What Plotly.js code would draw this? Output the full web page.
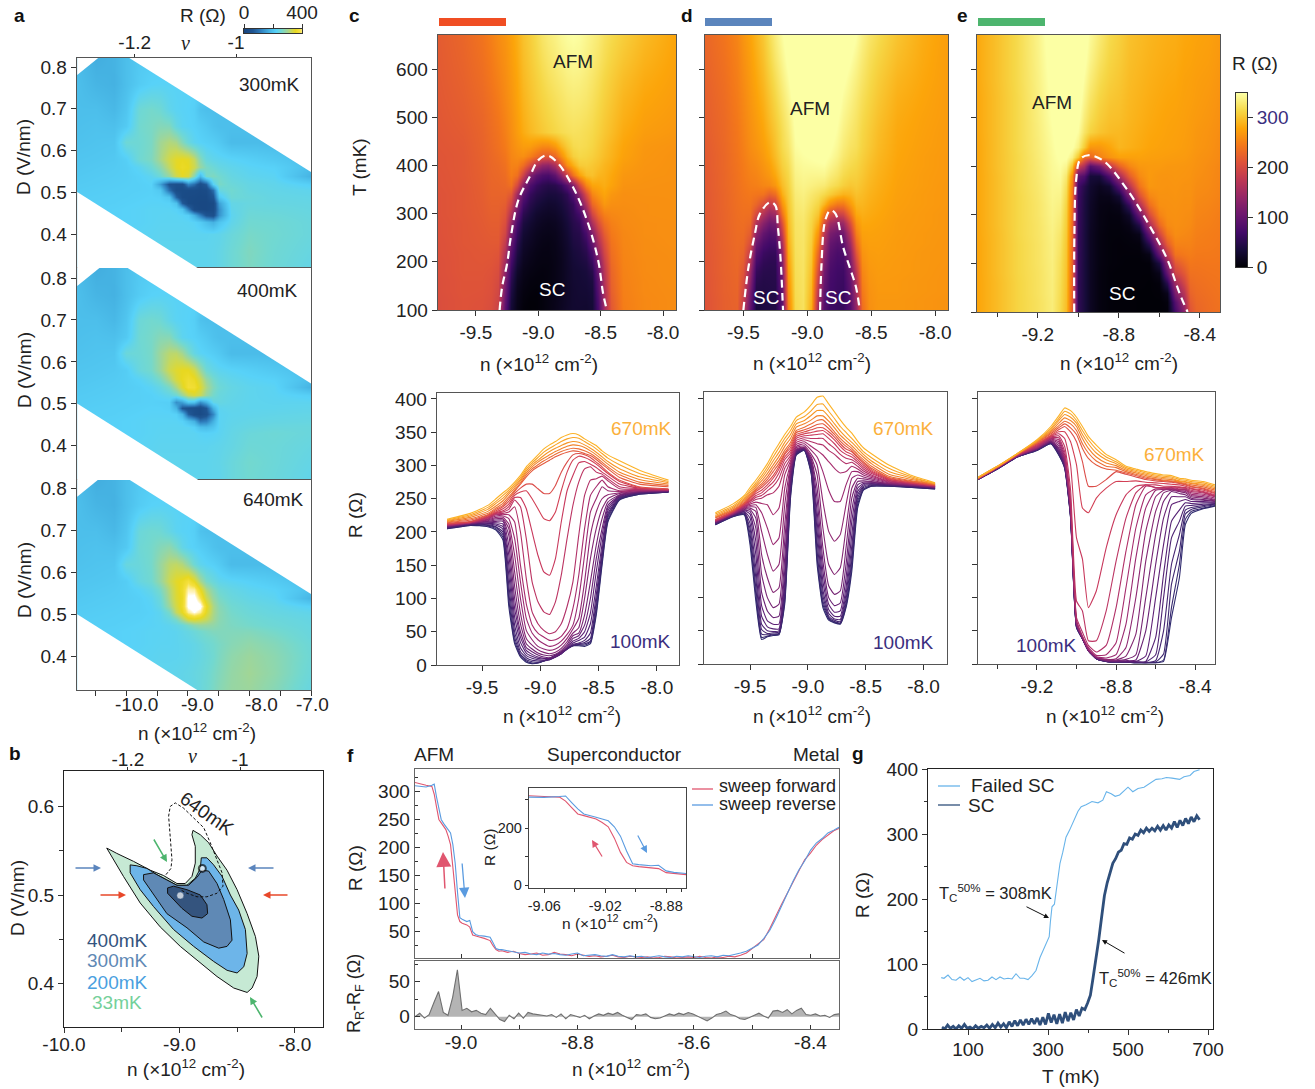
<!DOCTYPE html>
<html><head><meta charset="utf-8"><script src="https://cdn.plot.ly/plotly-3.0.1.min.js"></script>
<style>html,body{margin:0;padding:0;background:#fff}</style></head><body><div id="g"></div>
<script>
// ---------- DATA ----------
const temps=[100,120,140,160,180,200,220,240,260,280,300,320,340,360,380,400,420,440,470,500,540,580,620,670];
// panel c : one array per density, R(T)
const nC=[-9.8,-9.6,-9.45,-9.38,-9.32,-9.27,-9.22,-9.17,-9.12,-9.07,-9.02,-8.97,-8.92,-8.87,-8.82,-8.77,-8.72,-8.67,-8.62,-8.57,-8.52,-8.47,-8.42,-8.32,-8.15,-7.9];
const colsC=[
[205,205,206,206,207,207,208,208,209,209,210,210,210,211,211,212,212,213,214,215,216,217,218,219],
[210,210,211,211,212,212,212,213,213,213,214,214,214,214,215,215,215,216,218,220,222,224,226,228],
[208,209,210,211,212,213,214,215,216,217,218,219,220,221,222,223,224,225,226,228,231,234,237,240],
[203,205,207,208,210,212,214,216,218,220,222,224,226,227,228,229,230,232,234,236,239,243,246,250],
[188,192,196,200,204,208,212,216,218,220,222,224,226,228,230,232,235,238,240,243,247,251,255,259],
[88,98,108,120,135,150,165,180,195,205,212,220,226,230,234,238,242,246,250,253,257,260,263,266],
[32,36,42,50,60,72,85,100,118,140,165,190,215,238,248,252,255,258,261,263,266,269,272,275],
[12,14,16,20,26,34,42,50,62,78,100,125,150,200,238,252,260,266,272,274,277,279,282,285],
[4,6,8,11,14,18,22,26,32,40,52,70,92,130,190,235,262,272,283,286,289,292,295,298],
[2,3,5,7,10,13,16,20,24,30,38,48,60,80,125,200,250,272,292,295,298,301,304,307],
[3,3,4,6,8,10,12,15,18,23,28,38,48,62,95,165,235,265,298,301,305,308,312,316],
[6,6,6,6,7,9,10,12,15,19,24,32,42,52,80,140,220,258,303,307,311,315,320,325],
[10,10,9,8,8,9,10,11,14,17,22,28,37,47,76,135,217,258,308,312,316,321,326,331],
[15,14,13,12,12,12,13,14,16,19,24,30,38,50,95,160,230,270,313,317,321,326,331,336],
[20,19,18,17,17,17,18,20,22,25,30,36,43,62,135,215,262,290,317,321,325,330,336,342],
[25,24,24,24,24,25,26,28,31,35,40,46,55,88,190,262,290,305,320,324,329,334,340,346],
[29,29,29,30,31,33,36,40,44,48,54,60,85,125,240,285,308,316,322,326,331,336,342,348],
[29,30,31,32,33,37,40,44,48,56,70,100,135,195,275,304,314,318,321,325,330,335,341,346],
[28,30,32,34,37,42,50,60,75,100,125,165,205,255,295,306,312,316,318,322,327,331,336,340],
[32,34,36,40,48,62,78,100,125,160,195,230,255,278,298,302,308,312,315,318,322,326,331,335],
[75,80,88,95,105,118,140,160,180,205,230,250,268,280,290,297,302,305,309,312,316,320,325,330],
[150,155,160,165,172,182,195,205,220,235,250,268,278,284,287,290,295,298,302,305,309,313,318,322],
[215,218,222,225,228,232,236,240,245,250,256,262,268,277,280,284,288,290,295,298,302,306,311,316],
[248,249,250,251,252,253,254,255,256,258,259,261,262,265,268,272,276,278,282,286,290,295,301,307],
[257,257,258,258,259,259,260,260,261,261,262,262,263,264,265,266,267,268,272,275,279,283,288,293],
[260,260,260,261,261,261,261,262,262,262,263,263,263,263,264,264,264,265,268,270,272,274,276,278]];
// panel d
const nD=[-9.8,-9.65,-9.55,-9.5,-9.45,-9.4,-9.35,-9.3,-9.25,-9.2,-9.15,-9.1,-9.03,-8.97,-8.92,-8.87,-8.82,-8.77,-8.72,-8.67,-8.62,-8.57,-8.52,-8.45,-8.3,-8.1,-7.9];
const colsD=[
[210,210,211,211,212,212,213,213,214,214,215,215,215,216,216,217,217,218,220,221,222,224,226,228],
[222,222,223,223,224,224,224,225,225,226,226,227,227,228,228,229,229,230,231,232,234,236,238,241],
[225,226,227,228,229,230,231,232,233,234,235,236,237,238,239,240,241,242,243,245,247,249,251,254],
[180,188,196,204,212,220,226,230,233,235,237,239,241,243,245,246,248,250,252,254,256,259,262,266],
[95,105,115,130,145,165,185,205,220,230,236,240,244,248,251,254,257,260,262,264,267,270,273,277],
[37,40,45,52,60,72,88,108,135,165,200,228,242,250,254,258,262,266,269,272,276,280,284,289],
[41,42,44,46,50,56,65,80,100,130,165,205,240,255,261,266,270,274,278,282,287,292,297,302],
[43,44,45,47,49,53,60,70,85,108,140,180,225,258,268,274,280,284,290,295,300,306,312,318],
[44,45,46,48,50,53,60,72,90,115,150,190,235,268,280,288,294,298,302,307,313,319,326,332],
[90,95,100,105,115,125,140,160,185,210,240,265,285,295,302,308,312,316,318,322,328,334,340,346],
[250,255,260,265,270,275,280,285,290,294,298,302,306,310,314,318,322,326,330,334,340,346,352,358],
[315,316,317,318,319,320,321,322,323,324,326,328,331,334,337,340,343,346,349,352,357,362,367,372],
[322,322,323,323,324,324,325,325,326,327,329,332,335,338,341,344,347,350,353,357,362,367,373,380],
[285,288,291,294,297,300,303,306,309,312,316,322,328,335,340,345,349,353,357,362,368,375,382,391],
[150,160,170,185,200,215,230,248,265,285,300,312,322,332,340,346,351,356,361,367,374,382,391,402],
[85,90,95,103,112,125,140,155,175,205,245,290,315,330,340,347,352,356,362,368,374,382,392,404],
[66,68,70,72,76,82,90,100,118,150,200,262,305,322,332,340,346,350,355,360,366,373,381,392],
[62,63,64,66,68,72,78,88,105,135,185,245,295,316,325,332,338,342,346,350,356,362,370,380],
[60,61,62,64,67,72,80,92,110,145,195,245,288,308,316,322,328,332,336,340,345,351,358,368],
[85,88,92,98,105,115,130,150,175,205,240,270,290,302,310,316,320,324,328,332,337,342,349,357],
[140,148,156,165,178,195,215,232,250,265,280,290,298,304,308,312,316,320,322,325,329,334,340,348],
[235,240,245,250,255,260,265,270,275,280,285,290,294,298,302,305,308,311,313,316,320,325,330,336],
[262,263,264,266,268,270,272,274,276,279,282,285,288,291,294,297,300,303,305,308,312,316,320,326],
[268,268,269,270,271,272,273,274,275,277,279,281,283,285,287,289,291,293,295,298,302,306,311,317],
[268,268,269,269,270,270,271,271,272,272,273,274,275,276,277,278,279,280,281,283,286,290,295,300],
[266,266,267,267,268,268,268,269,269,270,270,271,271,272,272,273,273,274,275,276,278,280,282,284],
[264,264,265,265,265,266,266,266,267,267,267,268,268,268,269,269,269,270,270,271,271,272,272,273]];
// panel e
const nE=[-9.5,-9.4,-9.3,-9.2,-9.13,-9.09,-9.06,-9.03,-9.0,-8.97,-8.94,-8.9,-8.85,-8.8,-8.75,-8.7,-8.65,-8.6,-8.56,-8.52,-8.48,-8.45,-8.42,-8.36,-8.3];
const colsE=[
[278,278,278,278,278,278,278,278,279,279,279,279,279,279,279,279,279,279,280,280,280,281,281,281],
[294,294,294,294,295,295,295,295,295,296,296,296,296,296,296,297,297,297,297,297,297,298,298,298],
[312,312,312,312,313,313,313,313,314,314,314,314,314,315,315,315,315,316,316,316,316,317,317,317],
[322,322,323,323,323,324,324,324,325,325,326,326,327,328,329,330,331,332,333,334,335,336,337,338],
[332,332,333,333,334,334,335,335,336,337,338,339,340,341,342,343,344,345,347,349,351,353,355,358],
[315,316,317,318,319,320,322,324,326,329,332,335,338,341,344,347,350,353,356,359,363,367,370,374],
[295,296,297,298,299,300,301,302,304,306,308,311,315,320,328,340,350,358,362,366,371,376,381,386],
[220,221,222,223,224,225,226,228,230,232,235,238,242,248,262,300,335,350,356,362,367,372,377,382],
[55,55,56,56,57,58,58,59,60,61,62,64,66,70,95,190,300,335,346,352,358,363,367,372],
[38,38,38,38,38,38,39,39,39,40,40,41,42,48,80,158,235,305,325,332,340,346,352,358],
[20,20,20,20,20,20,20,20,20,21,22,23,25,28,35,85,228,268,310,318,325,332,338,343],
[8,8,8,8,8,9,9,9,9,10,10,11,13,18,35,110,250,268,300,306,312,318,324,330],
[4,4,4,4,4,5,5,5,5,6,7,9,14,28,80,175,265,278,294,298,303,308,312,316],
[3,3,3,3,3,4,4,4,5,6,8,14,32,85,155,225,275,290,292,296,299,302,305,308],
[3,3,3,3,3,3,4,5,7,12,25,60,115,170,220,255,275,286,288,290,292,294,296,298],
[2,2,2,3,3,3,4,6,14,45,100,160,205,240,258,268,276,282,284,286,288,290,292,294],
[2,2,2,2,3,4,12,50,100,155,200,235,255,268,270,270,274,278,280,282,284,286,288,290],
[2,2,3,5,14,40,100,150,195,230,252,262,264,266,266,270,273,276,278,279,281,283,285,287],
[4,6,15,50,100,135,180,220,245,258,262,263,264,265,266,268,272,275,276,277,279,281,283,285],
[70,85,120,150,190,215,240,252,260,262,263,264,265,266,267,268,271,274,275,276,278,280,282,284],
[130,150,170,195,215,232,245,252,257,260,261,262,263,264,266,267,270,272,273,274,275,276,278,280],
[210,218,226,232,238,243,248,252,255,258,260,262,263,264,265,266,268,270,271,272,274,275,277,279],
[227,230,233,236,239,242,245,248,250,252,254,256,258,260,262,264,265,267,268,270,272,273,275,277],
[234,235,237,239,241,243,245,247,248,250,252,254,256,258,259,260,262,264,265,267,269,271,273,275],
[238,239,240,241,242,243,244,245,246,247,248,250,252,253,254,255,257,258,260,262,264,266,268,270]];
// dashed dome outlines
const domeCn=[-9.31,-9.29,-9.25,-9.22,-9.16,-9.07,-9.0,-8.93,-8.84,-8.71,-8.6,-8.52,-8.48,-8.45];
const domeCT=[100,148,196,252,328,376,411,421,404,349,279,203,134,100];
const domeD1n=[-9.5,-9.46,-9.41,-9.37,-9.29,-9.25,-9.23,-9.21,-9.19];
const domeD1T=[100,189,258,300,324,317,272,210,100];
const domeD2n=[-8.9,-8.89,-8.86,-8.82,-8.78,-8.72,-8.66,-8.62,-8.59];
const domeD2T=[100,189,286,307,300,231,182,148,100];
const domeEn=[-9.02,-9.019,-9.01,-8.99,-8.95,-8.877,-8.76,-8.647,-8.56,-8.5,-8.46];
const domeET=[100,263,374,415,423,412,353,277,208,139,100];
// panel a maps
const nA=[-10.8,-10.5,-10.2,-10,-9.8,-9.6,-9.45,-9.3,-9.2,-9.1,-9,-8.9,-8.8,-8.7,-8.6,-8.5,-8.3,-8,-7.6,-7];
const dA=[0.82,0.76,0.7,0.66,0.62,0.58,0.56,0.54,0.52,0.505,0.49,0.475,0.46,0.445,0.43,0.4,0.36,0.32];
const map300=[
[185,165,172,190,205,210,210,210,210,210,210,210,210,210,210,210,210,210,210,210],
[190,175,170,190,210,220,222,222,222,222,222,222,222,222,222,222,222,222,222,222],
[190,190,180,200,250,258,252,232,224,222,220,215,195,190,190,190,190,190,190,190],
[192,195,192,208,255,262,270,268,240,226,222,218,212,205,195,190,190,190,190,190],
[195,198,200,250,252,262,292,305,298,270,245,228,220,216,212,205,185,185,185,185],
[200,202,205,215,252,265,298,328,345,350,345,318,272,242,232,228,222,215,205,190],
[202,205,208,212,226,250,276,316,346,356,350,326,286,262,250,240,232,224,218,190],
[205,208,210,212,218,228,250,286,326,346,336,272,182,258,266,256,240,230,225,172],
[208,210,212,214,216,220,150,52,40,40,120,90,36,72,220,262,248,238,232,215],
[210,212,214,215,216,218,205,92,30,25,25,25,20,25,90,240,255,240,235,230],
[212,214,215,216,218,220,218,200,80,25,20,18,15,15,55,205,250,245,238,235],
[213,215,216,218,220,222,222,220,195,70,20,15,12,12,20,150,236,242,240,238],
[215,216,218,220,222,224,224,224,220,200,110,25,14,12,25,130,232,246,244,240],
[215,216,218,220,222,224,225,226,225,222,215,170,110,55,40,135,228,250,248,242],
[216,217,218,220,222,224,226,226,226,226,225,222,210,190,170,200,232,254,252,244],
[216,218,220,222,224,226,228,228,228,228,228,228,228,228,230,232,245,260,254,244],
[218,220,222,224,226,228,230,230,230,230,230,230,230,230,232,236,250,266,252,240],
[218,220,222,224,226,228,230,230,230,230,230,230,230,230,232,236,250,264,250,236]];
const map400=[
[185,165,172,190,205,210,210,210,210,210,210,210,210,210,210,210,210,210,210,210],
[190,175,170,190,210,220,222,222,222,222,222,222,222,222,222,222,222,222,222,222],
[190,190,180,200,248,256,252,234,224,222,220,215,195,190,190,190,190,190,190,190],
[192,195,192,206,252,260,272,272,248,228,222,218,212,205,195,190,190,190,190,190],
[195,198,200,246,250,260,290,310,312,295,265,238,224,218,212,205,185,185,185,185],
[200,202,205,212,244,258,288,325,342,350,350,330,290,252,236,228,222,215,205,190],
[202,205,208,212,222,240,262,300,335,352,365,355,325,285,258,242,232,224,218,190],
[205,208,210,212,216,224,238,262,300,340,372,368,340,300,268,250,238,230,225,172],
[208,210,212,214,216,218,225,235,250,285,320,335,320,285,258,244,236,230,226,215],
[210,212,214,215,216,218,216,215,130,150,200,195,130,170,235,240,234,230,228,228],
[212,214,215,216,218,220,220,216,175,60,40,35,25,60,170,228,232,230,230,232],
[213,215,216,218,220,222,222,222,218,180,75,35,22,45,120,225,230,232,234,236],
[215,216,218,220,222,224,224,224,224,220,195,170,100,110,170,225,232,236,238,240],
[215,216,218,220,222,224,225,226,226,226,225,218,190,185,200,225,234,240,244,244],
[216,217,218,220,222,224,226,226,226,226,226,226,222,220,222,226,236,246,250,244],
[216,218,220,222,224,226,228,228,228,228,228,228,228,228,230,232,238,250,248,240],
[218,220,222,224,226,228,230,230,230,230,230,230,230,230,232,234,244,256,248,236],
[218,220,222,224,226,228,230,230,230,230,230,230,230,230,232,232,244,254,246,232]];
const map640=[
[185,165,172,190,205,210,210,210,210,210,210,210,210,210,210,210,210,210,210,210],
[190,175,170,190,210,220,222,222,222,222,222,222,222,222,222,222,222,222,222,222],
[190,190,180,200,246,254,252,238,226,222,220,215,195,190,190,190,190,190,190,190],
[192,195,192,206,250,258,270,278,260,236,224,218,212,205,195,190,190,190,190,190],
[195,198,200,242,246,258,286,310,315,305,280,250,230,222,216,208,185,185,185,185],
[200,202,205,212,240,254,284,322,345,355,375,348,298,262,245,232,225,218,208,190],
[202,205,208,212,222,238,262,306,340,360,405,400,350,300,270,250,238,228,220,195],
[205,208,210,212,216,226,248,300,338,355,425,430,385,325,285,262,246,236,228,175],
[208,210,212,214,216,222,240,288,330,360,425,440,430,355,300,272,254,244,236,218],
[210,212,214,215,216,220,228,260,318,350,400,420,400,345,300,276,258,248,240,232],
[212,214,215,216,218,222,226,240,262,300,335,345,335,320,295,275,262,254,246,238],
[213,215,216,218,220,222,224,228,236,245,262,276,285,285,280,272,264,258,250,240],
[215,216,218,220,222,224,224,226,228,234,240,248,256,262,268,268,268,268,258,242],
[215,216,218,220,222,224,225,226,228,232,236,242,250,256,260,266,270,274,264,244],
[216,217,218,220,222,224,226,226,228,230,232,236,242,250,256,262,272,280,270,248],
[216,218,220,222,224,226,228,228,228,230,232,236,240,246,254,264,278,288,276,250],
[218,220,222,224,226,228,230,230,232,234,236,240,244,250,260,268,282,292,278,246],
[218,220,222,224,226,228,230,230,232,234,234,238,244,252,262,272,284,288,272,240]];
const bandTopN=[-9.99,-7,-7],bandTopD=[0.825,0.5485,0.825];
const bandLowN=[-10.8,-8.8,-10.8],bandLowD=[0.5006,0.315,0.315];
const bandCutN=[-10.8,-10.43,-10.8],bandCutD=[0.781,0.825,0.825];
// panel b contours
const c33n=[-9.63,-9.543,-9.398,-9.253,-9.138,-9.022,-8.95,-8.892,-8.863,-8.863,-8.892,-8.883,-8.819,-8.747,-8.675,-8.588,-8.501,-8.414,-8.342,-8.313,-8.328,-8.371,-8.414,-8.53,-8.675,-8.819,-8.993,-9.167,-9.34,-9.485,-9.63];
const c33d=[.553,.547,.538,.528,.522,.513,.513,.521,.536,.555,.568,.573,.568,.559,.544,.528,.506,.479,.453,.431,.408,.395,.39,.395,.408,.423,.442,.464,.491,.521,.553];
const c200n=[-9.427,-9.369,-9.282,-9.196,-9.109,-9.022,-8.935,-8.863,-8.819,-8.811,-8.762,-8.704,-8.631,-8.559,-8.487,-8.429,-8.414,-8.443,-8.501,-8.588,-8.704,-8.877,-9.051,-9.225,-9.34,-9.427,-9.427];
const c200d=[.534,.533,.53,.523,.517,.511,.511,.519,.53,.542,.542,.534,.521,.5,.483,.461,.434,.419,.412,.415,.425,.442,.461,.487,.506,.525,.534];
const c300n=[-9.311,-9.225,-9.109,-9.022,-8.921,-8.848,-8.805,-8.747,-8.675,-8.617,-8.559,-8.545,-8.588,-8.66,-8.79,-8.935,-9.109,-9.253,-9.311,-9.311];
const c300d=[.523,.525,.517,.511,.511,.52,.528,.527,.513,.495,.472,.449,.442,.44,.447,.463,.479,.506,.517,.523];
const c400n=[-9.103,-9.051,-8.935,-8.819,-8.762,-8.756,-8.805,-8.892,-8.979,-9.051,-9.103,-9.103];
const c400d=[.508,.51,.506,.5,.489,.479,.474,.476,.485,.495,.502,.508];
const c640n=[-9.117,-9.074,-9.065,-9.08,-9.094,-9.08,-9.036,-8.964,-8.863,-8.79,-8.733,-8.675,-8.631,-8.623,-8.675,-8.762,-8.848,-8.935,-8.993];
const c640d=[.523,.53,.54,.562,.589,.6,.604,.598,.585,.576,.559,.54,.525,.51,.502,.498,.498,.502,.506];
// panel f
const fN=[-9.079,-9.07,-9.06,-9.05,-9.046,-9.042,-9.038,-9.034,-9.03,-9.026,-9.022,-9.018,-9.014,-9.01,-9.006,-9.002,-8.998,-8.99,-8.985,-8.98,-8.975,-8.97,-8.96,-8.95,-8.945,-8.94,-8.935,-8.93,-8.92,-8.91,-8.9,-8.89,-8.88,-8.87,-8.86,-8.85,-8.84,-8.83,-8.82,-8.81,-8.8,-8.79,-8.78,-8.77,-8.76,-8.75,-8.74,-8.73,-8.72,-8.71,-8.7,-8.69,-8.68,-8.67,-8.66,-8.65,-8.64,-8.63,-8.62,-8.61,-8.6,-8.59,-8.58,-8.57,-8.56,-8.55,-8.54,-8.53,-8.52,-8.51,-8.5,-8.49,-8.48,-8.47,-8.46,-8.45,-8.44,-8.43,-8.42,-8.41,-8.4,-8.39,-8.38,-8.37,-8.36,-8.351];
const fForward=[316,313,311,309,295,272,250,244,238,232,220,205,165,115,80,68,65,62,58,44,42,41,38,34,25,18,15,16,13,15,11,9,10,12,8,9,13,10,9,7,10,8,6,7,5,6,8,5,4,6,5,4,5,3,4,6,5,3,4,5,4,6,4,3,5,4,6,5,8,12,20,28,36,55,78,98,118,138,158,178,190,204,214,222,230,234];
const fReverse=[310,309,308,311,313,290,268,250,243,238,232,226,205,172,120,75,72,68,70,50,45,43,42,40,30,20,18,18,16,14,12,13,10,9,12,10,11,9,8,10,12,7,8,9,7,6,9,6,5,7,5,6,4,5,7,5,4,6,5,7,5,4,6,7,5,8,7,9,12,15,21,26,38,52,72,95,120,140,160,176,195,208,216,226,231,236];
const fDiff=[0,5,-2,3,20,36,6,2,28,67,9,12,7,9,5,3,12,4,-4,-7,2,-3,5,-2,6,4,3,2,1,3,-1,4,-3,3,1,-1,2,-3,1,4,2,5,3,6,2,-1,-4,3,2,4,-1,-3,-2,1,4,2,5,3,6,4,1,-2,-6,-2,3,5,8,3,1,-3,-4,-1,2,5,1,-2,8,9,6,10,4,9,12,3,2,4,1,2,-1,3,4];
// panel g
const gFailT=[33,40,50,60,70,80,90,100,110,120,130,140,150,160,170,180,190,200,210,220,230,240,250,260,270,280,290,297,303,306,310,316,322,330,337,345,354,365,375,383,395,410,425,437,446,458,468,479,490,500,512,525,540,554,570,585,596,610,620,629,640,655,665,679];
const gFailR=[79,78,83,76,75,80,75,79,73,75,78,74,75,80,76,80,77,78,77,85,78,78,76,82,90,110,125,135,142,165,188,192,220,255,272,295,306,322,335,342,345,350,348,352,365,362,358,360,366,372,365,370,372,378,384,385,387,386,385,384,388,390,396,399];
const gScT=[35,42,49,56,63,70,77,84,91,98,105,112,119,126,133,140,147,154,161,168,175,182,189,196,203,210,217,224,231,238,245,252,259,266,273,280,287,294,301,308,315,322,329,336,343,350,357,364,371,378,385,392,399,406,413,420,427,434,441,448,455,462,469,476,483,490,497,504,511,518,525,532,539,546,553,560,567,574,581,588,595,602,609,616,623,630,637,644,651,658,665,672,679];
const gScR=[3,0,6,1,4,0,5,1,7,1,3,0,5,1,4,2,6,1,7,2,9,3,8,2,11,4,13,5,14,6,15,7,16,8,17,6,18,7,24,10,22,8,23,9,26,12,25,14,30,20,32,30,40,52,80,108,138,172,205,225,240,255,262,272,275,285,284,294,292,300,298,306,302,309,304,309,305,312,306,313,306,314,309,319,310,321,313,324,316,326,319,328,322];
const barLevelsA=[0,50,100,150,200,250,300,350,400];
const barLevelsH=[0,50,100,150,200,250,300,348];

// ---------- STYLE ----------
const inferno=[[0,'#000004'],[.1,'#160b39'],[.2,'#420a68'],[.3,'#6a176e'],[.4,'#932667'],[.5,'#bb3754'],[.6,'#dd513a'],[.7,'#f3771a'],[.8,'#fca50a'],[.9,'#f6d746'],[1,'#fcffa4']];
const icy=[[0,'#17457f'],[.143,'#1f5592'],[.262,'#2f7fbe'],[.405,'#45b2e2'],[.524,'#58d2f8'],[.607,'#72d8d0'],[.69,'#9ed69a'],[.762,'#c8d85a'],[.833,'#e8d820'],[.905,'#f6e040'],[.976,'#fff4c0'],[1,'#ffffff']];
const curveStops=[[0,[47,42,110]],[.25,[90,32,117]],[.5,[160,42,112]],[.68,[207,58,88]],[.8,[232,96,58]],[.9,[245,146,38]],[1,[252,179,40]]];
function curveColor(i,n){const t=i/(n-1);for(let k=1;k<curveStops.length;k++){if(t<=curveStops[k][0]){const a=curveStops[k-1],b=curveStops[k],f=(t-a[0])/(b[0]-a[0]);return 'rgb('+a[1].map((v,m)=>Math.round(v+(b[1][m]-v)*f)).join(',')+')';}}return 'rgb(252,179,40)';}

const W=1315,H=1089,FS=19,INK='#222';
const layout={width:W,height:H,margin:{l:0,r:0,t:0,b:0},paper_bgcolor:'#fff',plot_bgcolor:'#fff',showlegend:false,font:{family:'"Liberation Sans",Arial,sans-serif',size:FS,color:INK},annotations:[],shapes:[]};
const traces=[];
function panel(k,r,xo,yo){
  const base={showline:true,mirror:true,linecolor:'#444',linewidth:1.4,ticks:'outside',ticklen:5,tickwidth:1,tickcolor:'#333',zeroline:false,showgrid:false,tickfont:{size:FS,color:INK}};
  layout['xaxis'+k]=Object.assign({},base,{domain:[r[0]/W,r[1]/W],anchor:'y'+k},xo);
  layout['yaxis'+k]=Object.assign({},base,{domain:[1-r[3]/H,1-r[2]/H],anchor:'x'+k},yo);
}
function label(text,x,y,o){layout.annotations.push(Object.assign({text,x:x/W,y:1-y/H,xref:'paper',yref:'paper',showarrow:false,xanchor:'center',yanchor:'middle',font:{size:FS,color:INK}},o||{}));}
function arrow(x0,y0,x1,y1,color,w,size){layout.annotations.push({text:'',x:x1/W,y:1-y1/H,xref:'paper',yref:'paper',showarrow:true,ax:x0-x1,ay:y0-y1,axref:'pixel',ayref:'pixel',arrowhead:2,arrowsize:size||1,arrowwidth:w||1.5,arrowcolor:color,standoff:0,startstandoff:0});}
function bar(x0,x1,y0,y1,color){layout.shapes.push({type:'rect',xref:'paper',yref:'paper',x0:x0/W,x1:x1/W,y0:1-y1/H,y1:1-y0/H,fillcolor:color,line:{width:0}});}
function seg(x0,x1,y,color){layout.shapes.push({type:'line',xref:'paper',yref:'paper',x0:x0/W,x1:x1/W,y0:1-y/H,y1:1-y/H,line:{color,width:1.3}});}
const nTitle='n (×10<sup>12</sup> cm<sup>-2</sup>)';
const byRow=cols=>cols[0].map((_,j)=>cols.map(c=>c[j]));
const on=k=>({xaxis:'x'+k,yaxis:'y'+k});
const vert={textangle:-90};

// ---------- panel a ----------
const aY=[.4,.5,.6,.7,.8];
[[2,[77,311,58,268],[.319,.8216],map300,'300mK',269,84,157],[3,[77,311,268,480],[.318,.824],map400,'400mK',267,290,370],[4,[77,311,480,690],[.3196,.8208],map640,'640mK',273,499,580]].forEach(p=>{
  const k=p[0];
  panel(k,p[1],{range:[-10.803,-7],tickvals:k===4?[-10.5,-10,-9.5,-9,-8.5,-8,-7.5,-7]:[],showticklabels:false,linecolor:'#555'},{range:p[2],tickvals:aY,linecolor:'#555'});
  traces.push(Object.assign({type:'heatmap',x:nA,y:dA,z:p[3],zsmooth:'best',zmin:0,zmax:420,colorscale:icy,showscale:false},on(k)));
  [[bandTopN,bandTopD],[bandLowN,bandLowD],[bandCutN,bandCutD]].forEach(b=>{
    layout.shapes.push({type:'path',xref:'x'+k,yref:'y'+k,layer:'above',path:'M'+b[0].map((v,i)=>v+','+b[1][i]).join(' L')+' Z',fillcolor:'#fff',line:{width:0}});
  });
  label(p[4],p[5],p[6]);
  label('D (V/nm)',24,p[7],vert);
});
[['-10.0',136],['-9.0',197],['-8.0',261],['-7.0',312]].forEach(t=>label(t[0],t[1],704));
label(nTitle,197,732);
// nu axis + small scale
function nuAxis(k,over,standoff){
  layout['xaxis'+k]={overlaying:'x'+over,anchor:'y'+over,side:'top',range:[-1.314,-.852],tickvals:[-1.2,-1],ticktext:['-1.2','-1'],ticks:'outside',ticklen:3,tickcolor:'#333',ticklabelstandoff:standoff,showline:false,zeroline:false,showgrid:false,tickfont:{size:FS,color:INK}};
  traces.push({type:'scatter',x:[null],y:[null],mode:'lines',xaxis:'x'+k,yaxis:'y'+over,hoverinfo:'skip'});
}
nuAxis(18,2,-3);
panel(16,[244,302,29,33],{range:[0,400],side:'top',tickvals:[0,200,400],ticktext:['0','','400'],ticklen:4,ticklabelstandoff:-3,linecolor:'#333',linewidth:1},{range:[0,1],ticks:'',showticklabels:false,linecolor:'#333',linewidth:1});
traces.push(Object.assign({type:'heatmap',x:barLevelsA,y:[0,1],z:[barLevelsA,barLevelsA],zsmooth:'best',zmin:0,zmax:420,colorscale:icy,showscale:false},on(16)));
label('R (Ω)',203,15);
label('ν',185,43,{font:{family:'"Liberation Serif",serif',size:20,color:INK},text:'<i>ν</i>'});

// ---------- panel b ----------
panel(5,[64,323,771,1027],{range:[-10,-7.757],tickvals:[-10,-9,-8],ticktext:['-10.0','-9.0','-8.0'],ticklabelstandoff:-5,minor:{tickvals:[-9.5,-8.5],ticks:'outside',ticklen:4,tickcolor:'#333'},linecolor:'#222',linewidth:1},{range:[.351,.64],tickvals:[.4,.5,.6],ticktext:['0.4','0.5','0.6'],minor:{tickvals:[.45,.55],ticks:'outside',ticklen:4,tickcolor:'#333'},linecolor:'#222',linewidth:1});
nuAxis(19,5,-7);
[[c33n,c33d,'#c6e9d4'],[c200n,c200d,'#6db5e9'],[c300n,c300d,'#5f89b5'],[c400n,c400d,'#34547e']].forEach(c=>traces.push(Object.assign({x:c[0],y:c[1],mode:'lines',fill:'toself',fillcolor:c[2],line:{color:'#111',width:1}},on(5))));
traces.push(Object.assign({x:c640n,y:c640d,mode:'lines',line:{color:'#111',width:1,dash:'3px,2px'}},on(5)));
traces.push(Object.assign({x:[-8.993,-8.802],y:[.4994,.53],mode:'markers',marker:{size:[7,7],color:['#fff','#fff'],line:{color:['#34547e','#111'],width:[0.5,2]}}},on(5)));
label('ν',192,756,{text:'<i>ν</i>',font:{family:'"Liberation Serif",serif',size:20,color:INK}});
label('640mK',207,813,{textangle:35});
label('400mK',117,940,{font:{size:FS,color:'#34547e'}});
label('300mK',117,960,{font:{size:FS,color:'#5f89b5'}});
label('200mK',117,982,{font:{size:FS,color:'#4aa0e0'}});
label('33mK',117,1002,{font:{size:FS,color:'#74d09a'}});
arrow(74,868,101,868,'#5b85bd');arrow(275,868,248,868,'#5b85bd');
arrow(99,895,126,895,'#e8482a');arrow(289,895,263,895,'#e8482a');
arrow(153,838,167,862,'#4db56e');arrow(263,1019,250,997,'#4db56e');
label(nTitle,186,1068);label('D (V/nm)',17,898,vert);

// ---------- panels c,d,e heat + line ----------
const hY=[100,200,300,400,500,600];
function heatPanel(k,rect,xr,xt,minorX,n,cols,domes,yLabels){
  panel(k,rect,{range:xr,tickvals:xt,ticktext:xt.map(v=>v.toFixed(1)),minor:minorX?{tickvals:minorX,ticks:'outside',ticklen:4,tickcolor:'#333'}:undefined,linecolor:'#555'},{range:[100,670.7],tickvals:hY,showticklabels:yLabels,linecolor:'#555'});
  traces.push(Object.assign({type:'heatmap',x:n,y:temps,z:byRow(cols),zsmooth:'best',zmin:0,zmax:348,colorscale:inferno,showscale:false},on(k)));
  domes.forEach(d=>traces.push(Object.assign({x:d[0],y:d[1],mode:'lines',line:{color:'#fff',width:2.2,dash:'8px,5px',shape:'spline'}},on(k))));
}
function linePanel(k,rect,xr,xt,minorX,n,cols,yLabels,yr){
  panel(k,rect,{range:xr,tickvals:xt,ticktext:xt.map(v=>v.toFixed(1)),minor:minorX?{tickvals:minorX,ticks:'outside',ticklen:4,tickcolor:'#333'}:undefined,linecolor:'#555'},{range:yr,tickvals:[0,50,100,150,200,250,300,350,400],showticklabels:yLabels,linecolor:'#555'});
  byRow(cols).forEach((row,j)=>traces.push(Object.assign({x:n,y:row,mode:'lines',line:{color:curveColor(j,temps.length),width:1.1,shape:'spline',smoothing:.45}},on(k))));
}
const t5=[-9.5,-9,-8.5,-8];
heatPanel(6,[438,676,35,310],[-9.804,-7.896],t5,null,nC,colsC,[[domeCn,domeCT]],true);
heatPanel(7,[705,948,35,310],[-9.8,-7.9],t5,null,nD,colsD,[[domeD1n,domeD1T],[domeD2n,domeD2T]],false);
heatPanel(8,[977,1220,35,312],[-9.5,-8.3],[-9.2,-8.8,-8.4],[-9.4,-9,-8.6],nE,colsE,[[domeEn,domeET]],false);
linePanel(9,[437,679,393,665],[-9.886,-7.81],t5,null,nC,colsC,true,[0,409]);
linePanel(10,[704,947,392,664],[-9.898,-7.797],t5,null,nD,colsD,false,[0,410]);
linePanel(11,[978,1215,392,664],[-9.498,-8.3],[-9.2,-8.8,-8.4],[-9.4,-9,-8.6],nE,colsE,false,[0,410]);
[[539,363],[812,362],[1119,362],[562,715],[812,715],[1105,715]].forEach(p=>label(nTitle,p[0],p[1]));
label('T (mK)',360,167,vert);label('R (Ω)',355,515,vert);
bar(439,506,18,26,'#f04e23');bar(705,772,18,26,'#5b85bd');bar(978,1045,18,26,'#4db56e');
[['AFM',573,62],['AFM',810,109],['AFM',1052,103]].forEach(t=>label(t[0],t[1],t[2]));
[['SC',552,289],['SC',766,297],['SC',838,297],['SC',1122,293]].forEach(t=>label(t[0],t[1],t[2],{font:{size:FS,color:'#fff'}}));
[[641,428],[904,428],[1174,455]].forEach(p=>label('670mK',p[0],p[1],{font:{size:FS,color:'#fbb03b'}}));
[[640,641],[903,642],[1046,645]].forEach(p=>label('100mK',p[0],p[1],{font:{size:FS,color:'#3b2e7e'}}));
// inferno scale
panel(17,[1236,1247,93,267],{range:[0,1],ticks:'',showticklabels:false,linecolor:'#333',linewidth:1},{range:[0,348],side:'right',tickvals:[0,100,200,300],ticktext:['0','100','200','<span style="color:#3b2e7e">300</span>'],ticklen:5,linecolor:'#333',linewidth:1});
traces.push(Object.assign({type:'heatmap',x:[0,1],y:barLevelsH,z:barLevelsH.map(v=>[v,v]),zsmooth:'best',zmin:0,zmax:348,colorscale:inferno,showscale:false},on(17)));
label('R (Ω)',1255,64);

// ---------- panel f ----------
const fr=[-9.079,-8.351];
panel(12,[415,839,769,958],{range:fr,tickvals:[-9,-8.9,-8.8,-8.7,-8.6,-8.5,-8.4],showticklabels:false,ticks:'inside',ticklen:4,linecolor:'#666'},{range:[3,340],tickvals:[50,100,150,200,250,300],minor:{tickvals:[25,75,125,175,225,275,325],ticks:'inside',ticklen:3,tickcolor:'#333'},ticks:'inside',ticklen:5,linecolor:'#666'});
traces.push(Object.assign({x:fN,y:fForward,mode:'lines',line:{color:'#e0566f',width:1.1}},on(12)));
traces.push(Object.assign({x:fN,y:fReverse,mode:'lines',line:{color:'#5a9be0',width:1.1}},on(12)));
panel(13,[415,839,961,1029],{range:fr,tickvals:[-9,-8.8,-8.6,-8.4],ticktext:['-9.0','-8.8','-8.6','-8.4'],ticklabelstandoff:-4,minor:{tickvals:[-8.9,-8.7,-8.5],ticks:'inside',ticklen:4,tickcolor:'#333'},ticks:'inside',ticklen:4,linecolor:'#666'},{range:[-17.6,79.6],tickvals:[0,50],minor:{tickvals:[25,75],ticks:'inside',ticklen:3,tickcolor:'#333'},ticks:'inside',ticklen:5,linecolor:'#666'});
traces.push(Object.assign({x:fDiff.map((_,i)=>fr[0]+i*(fr[1]-fr[0])/(fDiff.length-1)),y:fDiff,mode:'lines',fill:'tozeroy',fillcolor:'#b4b4b4',line:{color:'#6f6f6f',width:1.1}},on(13)));
panel(14,[529,686,788,888],{range:[-9.07,-8.967],tickvals:[-9.06,-9.02,-8.98],ticktext:['-9.06','-9.02','-8.88'],minor:{tickvals:[-9.04,-9,-8.97],ticks:'outside',ticklen:3,tickcolor:'#333'},tickfont:{size:14.5,color:INK},ticklen:4,linecolor:'#444',linewidth:1.2},{range:[-10,341],tickvals:[0,200],minor:{tickvals:[100,300],ticks:'outside',ticklen:3,tickcolor:'#333'},tickfont:{size:14.5,color:INK},ticklen:3,linecolor:'#444',linewidth:1.2});
traces.push(Object.assign({x:fN,y:fForward,mode:'lines',line:{color:'#e0566f',width:1.1}},on(14)));
traces.push(Object.assign({x:fN,y:fReverse,mode:'lines',line:{color:'#5a9be0',width:1.1}},on(14)));
label(nTitle,631,1068);label('R (Ω)',355,868,vert);label('R<sub>R</sub>-R<sub>F</sub> (Ω)',355,993,{textangle:-90,font:{size:18,color:INK}});
label(nTitle,610,922,{font:{size:15.5,color:INK}});label('R (Ω)',490,848,{textangle:-90,font:{size:15.5,color:INK}});
label('AFM',434,754);label('Superconductor',614,754);label('Metal',816,754);
seg(692,713,789,'#e0566f');seg(692,713,805,'#5a9be0');
label('sweep forward',717,786,{xanchor:'left',font:{size:18,color:INK}});label('sweep reverse',717,804,{xanchor:'left',font:{size:18,color:INK}});
arrow(445,890,443,852,'#e0566f',1.5,2);arrow(462,862,465,898,'#5a9be0',1.3,1.6);
arrow(603,858,592,840,'#e0566f',1.2,1.2);arrow(637,834,647,853,'#5a9be0',1.2,1.2);

// ---------- panel g ----------
panel(15,[928,1213,769,1029],{range:[0,712.5],tickvals:[100,300,500,700],ticklabelstandoff:-2,minor:{tickvals:[200,400,600],ticks:'outside',ticklen:3,tickcolor:'#333'},linecolor:'#222',linewidth:1},{range:[0,400],tickvals:[0,100,200,300,400],minor:{tickvals:[50,150,250,350],ticks:'outside',ticklen:3,tickcolor:'#333'},linecolor:'#222',linewidth:1});
traces.push(Object.assign({x:gFailT,y:gFailR,mode:'lines',line:{color:'#68b4ea',width:1.1}},on(15)));
traces.push(Object.assign({x:gScT,y:gScR,mode:'lines',line:{color:'#2f4f7b',width:2.8}},on(15)));
label('T (mK)',1071,1076);label('R (Ω)',862,895,vert);
seg(938,960,786,'#68b4ea');seg(938,960,805,'#2f4f7b');
label('Failed SC',969,785,{xanchor:'left'});label('SC',966,805,{xanchor:'left'});
label('T<sub>C</sub><sup>50%</sup> = 308mK',937,893,{xanchor:'left',font:{size:16.5,color:INK}});
label('T<sub>C</sub><sup>50%</sup> = 426mK',1097,978,{xanchor:'left',font:{size:16.5,color:INK}});
arrow(1025,906,1049,918,'#111',1,1);arrow(1126,954,1102,940,'#111',1,1);

// ---------- letters ----------
[['a',19,15],['b',15,753],['c',354,15],['d',687,15],['e',963,15],['f',350,755],['g',858,753]].forEach(t=>label('<b>'+t[0]+'</b>',t[1],t[2],{font:{size:19,color:'#111'}}));

Plotly.newPlot('g',traces,layout,{displayModeBar:false,staticPlot:true});
</script></body></html>
